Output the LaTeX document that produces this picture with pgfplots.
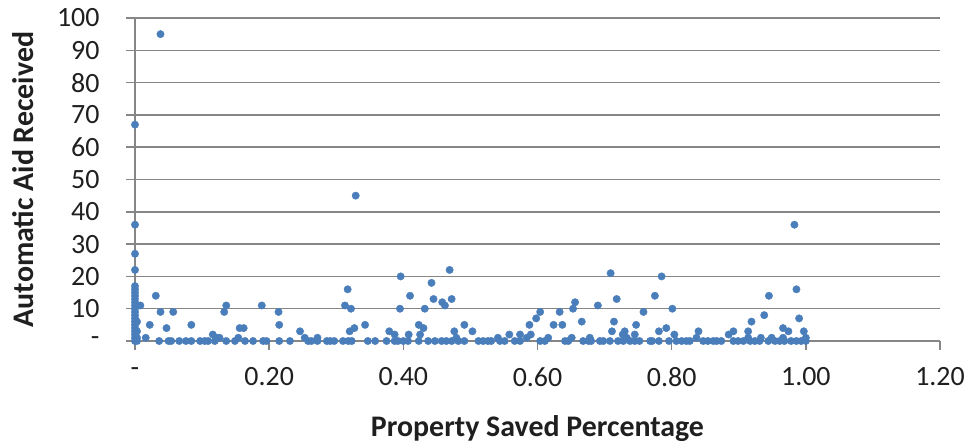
\documentclass[border=0pt]{standalone}
\usepackage{pgfplots}
\pgfplotsset{compat=1.18}
\usepackage{fontspec}
\setmainfont{Carlito}
\definecolor{GRID}{RGB}{134,134,134}
\definecolor{DOT}{RGB}{74,126,187}

\begin{document}
\begin{tikzpicture}
\begin{axis}[
    scale only axis,
    width=805bp, height=323bp,
    xmin=0, xmax=1.2, ymin=0, ymax=100,
    axis x line=bottom, axis y line=left,
    axis line style={GRID, line width=1.5pt, -},
    xtick={0,0.2,0.4,0.6,0.8,1.0,1.2},
    xticklabels={-\hspace{12bp},0.20,0.40,0.60,0.80,1.00,1.20},
    ytick={0,10,...,100},
    yticklabels={-\hspace{3bp},10,20,30,40,50,60,70,80,90,100},
    tick align=outside,
    major tick length=9bp,
    tick style={GRID, line width=1.5pt},
    ymajorgrids,
    grid style={GRID, line width=1.5pt},
    ticklabel style={font=\fontsize{28}{30}\selectfont, text=black!88},
    xticklabel style={yshift=-14bp},
    yticklabel shift=23bp,
    xlabel={\textbf{Property Saved Percentage}},
    ylabel={\textbf{Automatic Aid Received}},
    label style={font=\fontsize{30}{32}\selectfont, text=black!88},
    xlabel style={at={(axis description cs:0.5,0)}, anchor=base, yshift=-95bp},
    ylabel style={at={(axis description cs:0,0.5)}, anchor=base, yshift=101bp},
    clip=false,
]
\addplot[only marks, mark=*, mark size=3.7bp, DOT, mark options={draw=DOT, fill=DOT}] coordinates {
(0,67)(0,36)(0,27)(0,22)(0,17)(0,16)(0,15)(0,14)(0,13)(0,12)(0,11)(0,10)(0,9)(0,8)(0,7)(0,6)(0,5)(0,4)(0,3)(0,2)(0,1)(0,0)
(0.003,0)(0.003,1)(0.003,3)(0.003,6)
(0.008,11)(0.038,95)(0.016,1)(0.022,5)(0.031,14)(0.036,0)(0.038,9)(0.047,4)(0.050,0)(0.054,0)
(0.057,9)(0.066,0)(0.076,0)(0.084,5)(0.084,0)(0.097,0)(0.104,0)(0.109,0)(0.116,2)(0.119,0)
(0.122,1)(0.126,1)(0.133,9)(0.136,11)(0.136,0)(0.149,0)(0.154,1)(0.156,4)(0.162,4)(0.164,0)
(0.176,0)(0.189,11)(0.191,0)(0.196,0)(0.214,9)(0.215,5)(0.215,0)(0.231,0)(0.246,3)
(0.253,1)(0.258,0)(0.263,0)(0.272,1)(0.272,0)(0.286,0)(0.291,0)(0.297,0)(0.310,0)(0.318,0)
(0.323,0)(0.313,11)(0.317,16)(0.322,10)(0.320,3)(0.327,4)(0.329,45)(0.343,5)(0.347,0)(0.358,0)
(0.375,0)(0.379,3)(0.387,2)(0.387,0)(0.392,0)(0.400,0)(0.407,0)(0.396,20)(0.395,10)(0.410,14)
(0.408,2)(0.423,5)(0.430,4)(0.425,2)(0.423,0)(0.432,10)(0.442,18)(0.445,13)(0.437,0)(0.447,0)
(0.457,0)(0.464,0)(0.458,12)(0.462,11)(0.469,22)(0.472,13)(0.476,3)(0.479,1)(0.472,0)(0.482,0)
(0.491,0)(0.491,5)(0.503,3)
(0.512,0)(0.519,0)(0.526,0)(0.531,0)(0.541,1)(0.544,0)(0.551,0)(0.558,2)(0.566,0)(0.574,0)
(0.574,2)(0.584,1)(0.588,5)(0.590,2)(0.598,7)(0.604,9)(0.604,0)(0.611,0)(0.616,1)(0.624,5)
(0.633,9)(0.637,5)(0.641,0)(0.646,0)(0.651,1)(0.653,10)(0.656,12)(0.666,6)(0.668,0)(0.676,0)
(0.680,0)(0.678,1)(0.690,11)(0.693,0)(0.698,0)(0.708,0)(0.709,21)(0.711,3)(0.714,6)(0.718,13)
(0.720,0)(0.728,0)(0.727,2)(0.730,3)(0.733,1)(0.738,0)(0.745,0)(0.752,0)(0.745,2)(0.747,5)
(0.758,9)(0.768,0)
(0.771,0)(0.781,0)(0.775,14)(0.781,3)(0.785,20)(0.792,4)(0.796,0)(0.801,10)(0.804,2)(0.807,0)
(0.815,0)(0.822,0)(0.827,0)(0.837,1)(0.840,3)(0.847,0)(0.854,0)(0.862,0)(0.867,0)(0.874,0)
(0.885,2)(0.892,3)(0.892,0)(0.899,0)(0.907,0)(0.914,3)(0.914,1)(0.919,6)(0.917,0)(0.924,0)
(0.931,0)(0.933,1)(0.938,8)(0.945,14)(0.949,1)(0.944,0)(0.954,0)(0.961,0)(0.966,4)(0.966,1)
(0.974,3)(0.968,0)(0.983,36)(0.986,16)(0.990,7)(0.997,3)(1.0,1)(0.978,0)(0.986,0)(0.993,0)(1.0,0)
};
\end{axis}
% fix the page to the reference frame around the plot box
\pgfresetboundingbox
\path[use as bounding box] ([shift={(-135bp,-101bp)}]current axis.south west) rectangle ++(968bp,442bp);
\end{tikzpicture}
\end{document}
